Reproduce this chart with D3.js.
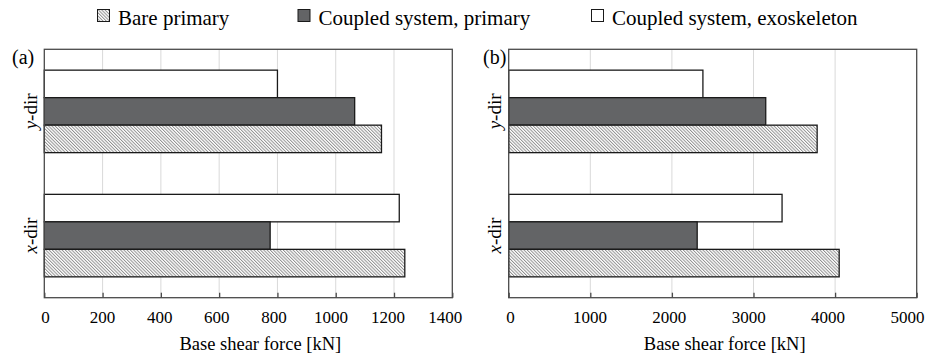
<!DOCTYPE html>
<html>
<head>
<meta charset="utf-8">
<script src="https://cdn.jsdelivr.net/npm/d3@7"></script>
<style>
  html, body { margin: 0; padding: 0; background: #fff; }
  svg { display: block; }
</style>
</head>
<body>
<svg id="chart" width="930" height="358" font-family="Liberation Serif"></svg>
<script>
// Directions (top to bottom) and the three series shown in each panel
const directions = ["y-dir", "x-dir"];
const seriesNames = ["Coupled system, exoskeleton", "Coupled system, primary", "Bare primary"];
const legendOrder = ["Bare primary", "Coupled system, primary", "Coupled system, exoskeleton"];

// Panel (a): base shear force [kN]
const panelA_bare = [1157, 1237];        // y-dir, x-dir
const panelA_coupledPrimary = [1065, 775];
const panelA_coupledExo = [800, 1218];
const panelA_ticks = [0, 200, 400, 600, 800, 1000, 1200, 1400];

// Panel (b): base shear force [kN]
const panelB_bare = [3780, 4050];
const panelB_coupledPrimary = [3150, 2310];
const panelB_coupledExo = [2380, 3350];
const panelB_ticks = [0, 1000, 2000, 3000, 4000, 5000];

const axisTitle = "Base shear force [kN]";
const FONT = "Liberation Serif";

const svg = d3.select("#chart");

// Fine diagonal hatch for the bare-primary bars
const defs = svg.append("defs");
const pat = defs.append("pattern")
  .attr("id", "hatch")
  .attr("patternUnits", "userSpaceOnUse")
  .attr("width", 2.3).attr("height", 10)
  .attr("patternTransform", "rotate(-45)");
pat.append("rect").attr("width", 2.3).attr("height", 10).attr("fill", "#fff");
pat.append("line")
  .attr("x1", 0.5).attr("x2", 0.5).attr("y1", 0).attr("y2", 10)
  .attr("stroke", "#888888").attr("stroke-width", 0.9);

const fills = {
  "Bare primary": "url(#hatch)",
  "Coupled system, primary": "#636466",
  "Coupled system, exoskeleton": "#ffffff"
};

const plotTop = 49.3, plotBottom = 297.7, plotW = 408;

function drawPanel(opt) {
  const { x0, label, labelX, ticks, bare, prim, exo, tickRange } = opt;
  const g = svg.append("g");
  const maxV = ticks[ticks.length - 1];
  const x = d3.scaleLinear().domain([0, maxV]).range([x0, x0 + plotW]);
  // tick labels sit on a slightly narrower span than the plot frame
  const xLab = d3.scaleLinear().domain([0, maxV]).range(tickRange);
  const y = d3.scaleBand().domain(directions).range([plotTop, plotBottom]).padding(0);
  const ySub = d3.scaleBand().domain(seriesNames).range([0, y.bandwidth()])
    .paddingInner(0).paddingOuter(0.758);

  const values = {
    "Bare primary": bare,
    "Coupled system, primary": prim,
    "Coupled system, exoskeleton": exo
  };

  // vertical gridlines
  g.append("g").selectAll("line")
    .data(ticks.slice(1, -1))
    .join("line")
    .attr("x1", d => x(d)).attr("x2", d => x(d))
    .attr("y1", plotTop).attr("y2", plotBottom)
    .attr("stroke", "#d9d9d9").attr("stroke-width", 1);

  // bars
  directions.forEach((dir, i) => {
    seriesNames.forEach(s => {
      g.append("rect")
        .attr("x", x(0))
        .attr("y", y(dir) + ySub(s))
        .attr("width", x(values[s][i]) - x(0))
        .attr("height", ySub.bandwidth())
        .attr("fill", fills[s])
        .attr("stroke", "#1a1a1a")
        .attr("stroke-width", 1.3);
    });
  });

  // frame
  g.append("rect")
    .attr("x", x0).attr("y", plotTop)
    .attr("width", plotW).attr("height", plotBottom - plotTop)
    .attr("fill", "none").attr("stroke", "#4a4a4a").attr("stroke-width", 1.3);

  // short inward tick marks along the bottom
  const axis = d3.axisBottom(x).tickValues(ticks).tickSize(-5).tickFormat("");
  const ax = g.append("g").attr("transform", `translate(0,${plotBottom})`).call(axis);
  ax.select(".domain").remove();
  ax.selectAll(".tick line").attr("stroke", "#4a4a4a").attr("stroke-width", 1.3);

  // tick labels
  const labAxis = d3.axisBottom(xLab).tickValues(ticks).tickSize(0).tickPadding(13)
    .tickFormat(d3.format("d"));
  const lab = g.append("g").attr("transform", `translate(0,${plotBottom})`).call(labAxis)
    .attr("font-family", FONT).attr("font-size", 17);
  lab.select(".domain").remove();
  lab.selectAll(".tick text").attr("fill", "#000");

  // axis title
  g.append("text")
    .attr("x", x0 + plotW / 2 + 12).attr("y", 349.5)
    .attr("text-anchor", "middle")
    .attr("font-family", FONT).attr("font-size", 18.5)
    .text(axisTitle);

  // direction labels, rotated
  directions.forEach(dir => {
    const cy = y(dir) + y.bandwidth() / 2;
    const t = g.append("text")
      .attr("transform", `translate(${x0 - 7.5},${cy}) rotate(-90)`)
      .attr("text-anchor", "middle")
      .attr("font-family", FONT).attr("font-size", 19);
    const parts = dir.split("-");
    t.append("tspan").attr("font-style", "italic").text(parts[0]);
    t.append("tspan").text("-" + parts[1]);
  });

  // panel letter
  g.append("text")
    .attr("x", labelX).attr("y", 64)
    .attr("font-family", FONT).attr("font-size", 20)
    .text(label);
}

drawPanel({
  x0: 44.3, label: "(a)", labelX: 12, ticks: panelA_ticks,
  bare: panelA_bare, prim: panelA_coupledPrimary, exo: panelA_coupledExo,
  tickRange: [45, 444.7]
});
drawPanel({
  x0: 508.7, label: "(b)", labelX: 483, ticks: panelB_ticks,
  bare: panelB_bare, prim: panelB_coupledPrimary, exo: panelB_coupledExo,
  tickRange: [510, 907]
});

// legend across the top
const legendX = [97, 297.5, 591];
const leg = svg.append("g");
legendOrder.forEach((name, i) => {
  leg.append("rect")
    .attr("x", legendX[i] + 0.5).attr("y", 9.5)
    .attr("width", 12).attr("height", 12)
    .attr("fill", fills[name])
    .attr("stroke", "#1a1a1a").attr("stroke-width", 1);
  leg.append("text")
    .attr("x", legendX[i] + 21).attr("y", 25)
    .attr("font-family", FONT).attr("font-size", 21)
    .text(name);
});
</script>
</body>
</html>
